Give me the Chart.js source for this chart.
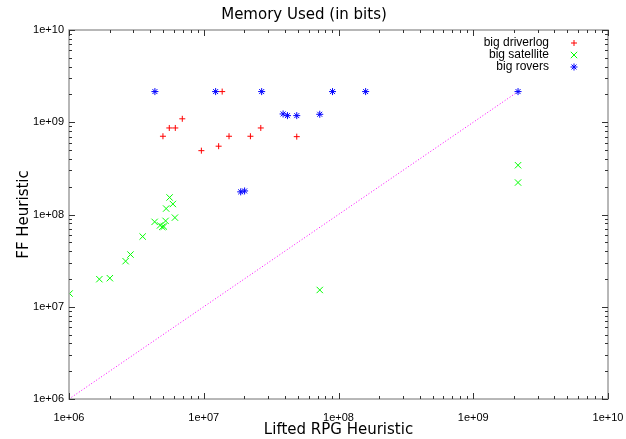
<!DOCTYPE html>
<html>
<head>
<meta charset="utf-8">
<script src="https://cdn.jsdelivr.net/npm/chart.js@4"></script>
<style>
	body { margin: 0; background: #fff; }
	#mycanvas { display: block; }
</style>
</head>
<body>
<canvas id="mycanvas" width="626" height="439"></canvas>
<script>
// data (log-log, values in bits)
var driverlogX = [1.37e7, 6.93e6, 5.55e6, 6.15e6, 4.98e6, 9.6e6, 1.29e7, 1.54e7, 2.22e7, 2.65e7, 4.9e7];
var driverlogY = [2.15e9, 1.09e9, 8.67e8, 8.67e8, 7.05e8, 4.92e8, 5.5e8, 7.05e8, 7.05e8, 8.67e8, 6.98e8];

var satelliteX = [1.01e6, 1.68e6, 2.01e6, 2.63e6, 2.86e6, 3.52e6, 4.32e6, 4.74e6, 4.92e6, 5.06e6, 5.21e6, 5.26e6, 5.58e6, 5.9e6, 6.11e6, 7.26e7, 2.15e9, 2.15e9];
var satelliteY = [1.39e7, 1.99e7, 2.04e7, 3.12e7, 3.68e7, 5.77e7, 8.32e7, 7.62e7, 7.34e7, 7.4e7, 8.53e7, 1.16e8, 1.53e8, 1.3e8, 9.25e7, 1.52e7, 3.42e8, 2.22e8];

var roversX = [4.34e6, 1.225e7, 2.69e7, 3.88e7, 4.18e7, 4.9e7, 7.26e7, 9.03e7, 1.59e8, 2.15e9, 1.88e7, 2.01e7];
var roversY = [2.15e9, 2.15e9, 2.15e9, 1.23e9, 1.18e9, 1.18e9, 1.22e9, 2.15e9, 2.15e9, 2.15e9, 1.76e8, 1.8e8];

var diagX = [1e6, 2.147e9];
var diagY = [1e6, 2.147e9];

var decades = [1e6, 1e7, 1e8, 1e9, 1e10];

function toPoints(xs, ys) {
	var pts = [];
	for (var i in xs) {
		pts.push({x: xs[i], y: ys[i]});
	}
	return pts;
}

function expLabel(v) {
	var e = Math.round(Math.log10(v));
	return '1e+' + (e < 10 ? '0' + e : e);
}

function majorTicks(scale) {
	scale.ticks = decades.map(function(v){ return {value: v}; });
}

// gnuplot style frame, inward ticks and legend
var gnuFrame = {
	id: 'gnuFrame',
	afterDatasetsDraw: function(chart) {
		var ctx = chart.ctx;
		var a = chart.chartArea;
		var xs = chart.scales.x, ys = chart.scales.y;
		ctx.save();
		ctx.strokeStyle = '#a0a0a0';
		ctx.lineWidth = 1.5;
		ctx.strokeRect(a.left, a.top, a.right - a.left, a.bottom - a.top);

		ctx.strokeStyle = '#333';
		ctx.lineWidth = 1;
		ctx.beginPath();
		for (var k = 0; k < decades.length; k++) {
			for (var m = 1; m < 10; m++) {
				if (k == decades.length - 1 && m > 1) break;
				var v = decades[k] * m;
				var len = (m == 1) ? 6 : 3;
				var px = Math.round(xs.getPixelForValue(v)) + 0.5;
				var py = Math.round(ys.getPixelForValue(v)) + 0.5;
				ctx.moveTo(px, a.bottom); ctx.lineTo(px, a.bottom - len);
				ctx.moveTo(px, a.top); ctx.lineTo(px, a.top + len);
				ctx.moveTo(a.left, py); ctx.lineTo(a.left + len, py);
				ctx.moveTo(a.right, py); ctx.lineTo(a.right - len, py);
			}
		}
		ctx.stroke();

		// legend
		ctx.font = '12px "Liberation Sans", Arial, sans-serif';
		ctx.textAlign = 'right';
		ctx.textBaseline = 'middle';
		var row = 0;
		chart.data.datasets.forEach(function(ds) {
			if (!ds.label) return;
			var ty = a.top + 13 + row * 12;
			ctx.fillStyle = '#000';
			ctx.fillText(ds.label, a.right - 59, ty);
			var cx = a.right - 34;
			var r = ds.pointRadius;
			ctx.strokeStyle = ds.borderColor;
			ctx.lineWidth = 1;
			ctx.beginPath();
			if (ds.pointStyle == 'cross' || ds.pointStyle == 'star') {
				ctx.moveTo(cx - r, ty); ctx.lineTo(cx + r, ty);
				ctx.moveTo(cx, ty - r); ctx.lineTo(cx, ty + r);
			}
			if (ds.pointStyle == 'crossRot' || ds.pointStyle == 'star') {
				var d = r * 0.707;
				ctx.moveTo(cx - d, ty - d); ctx.lineTo(cx + d, ty + d);
				ctx.moveTo(cx - d, ty + d); ctx.lineTo(cx + d, ty - d);
			}
			ctx.stroke();
			row++;
		});
		ctx.restore();
	}
};

var chartdata = {
	datasets: [
		{
			label: 'big driverlog',
			data: toPoints(driverlogX, driverlogY),
			pointStyle: 'cross',
			pointRadius: 3,
			borderColor: '#ff0000',
			backgroundColor: '#ff0000',
			borderWidth: 1
		},
		{
			label: 'big satellite',
			data: toPoints(satelliteX, satelliteY),
			pointStyle: 'crossRot',
			pointRadius: 4.5,
			borderColor: '#00ff00',
			backgroundColor: '#00ff00',
			borderWidth: 1
		},
		{
			label: 'big rovers',
			data: toPoints(roversX, roversY),
			pointStyle: 'star',
			pointRadius: 3.5,
			borderColor: '#0000ff',
			backgroundColor: '#0000ff',
			borderWidth: 1
		},
		{
			type: 'line',
			data: toPoints(diagX, diagY),
			borderColor: '#ff00ff',
			borderWidth: 1,
			borderDash: [1, 2],
			pointRadius: 0,
			fill: false
		}
	]
};

var ctx = document.getElementById('mycanvas');

var ScatterGraph = new Chart(ctx, {
	type: 'scatter',
	data: chartdata,
	plugins: [gnuFrame],
	options: {
		responsive: false,
		animation: false,
		devicePixelRatio: 1,
		layout: { padding: { right: 18 } },
		plugins: {
			legend: { display: false },
			tooltip: { enabled: false },
			title: {
				display: true,
				text: 'Memory Used (in bits)',
				color: '#000',
				font: { family: '"DejaVu Sans", sans-serif', size: 15, weight: 'normal', lineHeight: 1.2 },
				padding: { top: 6, bottom: 6 }
			}
		},
		scales: {
			x: {
				type: 'logarithmic',
				min: 1e6,
				max: 1e10,
				afterBuildTicks: majorTicks,
				afterFit: function(s) { s.height = 40; s.paddingLeft = 0; s.paddingRight = 0; },
				grid: { display: false, drawTicks: false },
				border: { display: false },
				ticks: {
					color: '#000',
					padding: 12,
					maxRotation: 0,
					autoSkip: false,
					font: { family: '"Liberation Sans", Arial, sans-serif', size: 11 },
					callback: function(v) { return expLabel(v); }
				},
				title: {
					display: true,
					text: 'Lifted RPG Heuristic',
					color: '#000',
					font: { family: '"DejaVu Sans", sans-serif', size: 15 },
					padding: { top: 0, bottom: 0 }
				}
			},
			y: {
				type: 'logarithmic',
				min: 1e6,
				max: 1e10,
				afterBuildTicks: majorTicks,
				afterFit: function(s) { s.width = 69; },
				grid: { display: false, drawTicks: false },
				border: { display: false },
				ticks: {
					color: '#000',
					padding: 5,
					autoSkip: false,
					font: { family: '"Liberation Sans", Arial, sans-serif', size: 11 },
					callback: function(v) { return expLabel(v); }
				},
				title: {
					display: true,
					text: 'FF Heuristic',
					color: '#000',
					font: { family: '"DejaVu Sans", sans-serif', size: 15 },
					padding: { top: 15, bottom: 0 }
				}
			}
		}
	}
});
</script>
</body>
</html>
